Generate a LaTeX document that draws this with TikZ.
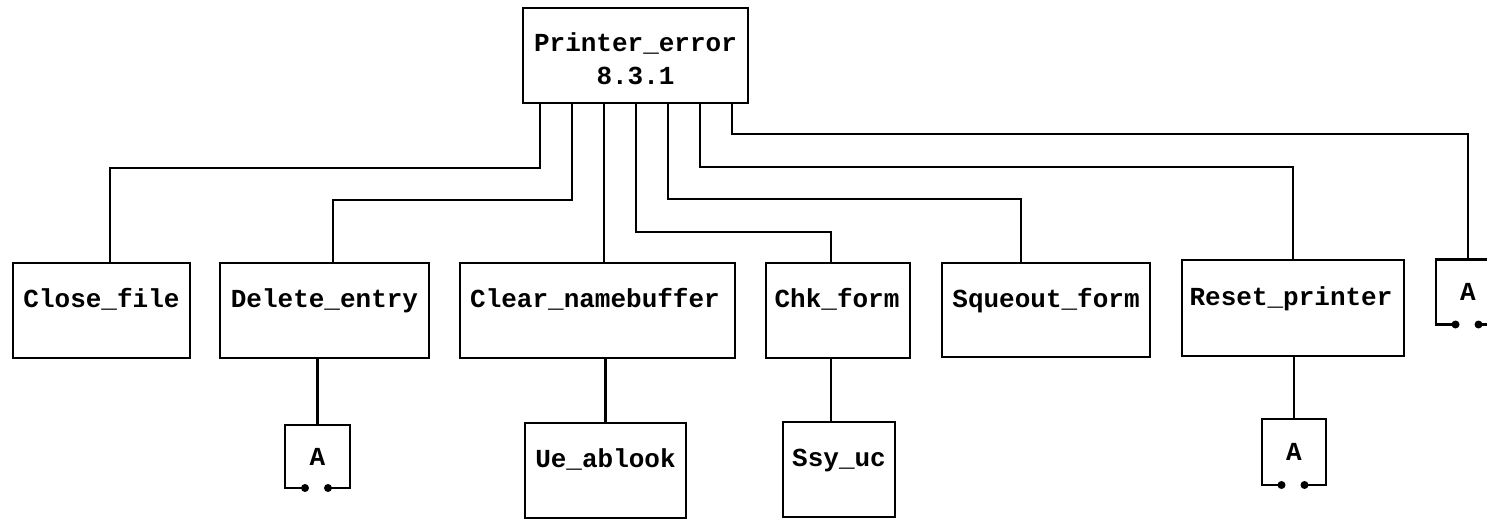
\documentclass[tikz,border=0pt]{standalone}
\usepackage{fontspec}
\newfontfamily\courfont{Liberation Mono}
\tikzset{
  box/.style={draw, rectangle, inner sep=0pt, outer sep=0pt},
  offbox/.style={rectangle, inner sep=0pt, outer sep=0pt, font=\courfont\bfseries\fontsize{26}{30}\selectfont},
  lbl/.style={anchor=base, inner sep=0pt, font=\courfont\bfseries\fontsize{26}{30}\selectfont},
}
\newcommand\offpagebox[1]{%
  \draw ([xshift=-12.5pt]#1.south) -- (#1.south west) -- (#1.north west) -- (#1.north east) -- (#1.south east) -- ([xshift=10.5pt]#1.south);
  \fill ([xshift=-12.5pt]#1.south) circle (4pt);
  \fill ([xshift=10.5pt]#1.south) circle (4pt);
}
\begin{document}
\begin{tikzpicture}[x=1pt, y=-1pt, line width=2.8pt, line join=miter]
\useasboundingbox (0,0) rectangle (1487,519);
\clip (0,0) rectangle (1487,519);
% top
\node[box, minimum width=225pt, minimum height=95pt] (P) at (635.5,55.5) {};
\node[lbl] (tP1) at (635.5,52) {Printer\_error};
\node[lbl] (tP2) at (635.5,84) {8.3.1};
% row 2
\node[box, minimum width=177pt, minimum height=95pt] (C1) at (101.5,310.5) {};
\node[box, minimum width=209pt, minimum height=95pt] (C2) at (324.5,310.5) {};
\node[box, minimum width=275pt, minimum height=95pt] (C3) at (597.5,310.5) {};
\node[box, minimum width=144pt, minimum height=95pt] (C4) at (838,310.5) {};
\node[box, minimum width=208pt, minimum height=94pt] (C5) at (1046,310) {};
\node[box, minimum width=222pt, minimum height=96pt] (C6) at (1293,308) {};
\node[offbox, minimum width=64pt, minimum height=65pt] (AR) at (1468,292) {A};
\node[lbl] (t1) at (101.5,307) {Close\_file};
\node[lbl] (t2) at (324.5,307) {Delete\_entry};
\node[lbl] (t3) at (595,307) {Clear\_namebuffer};
\node[lbl] (t4) at (837,307) {Chk\_form};
\node[lbl] (t5) at (1046,307) {Squeout\_form};
\node[lbl] (t6) at (1291,305) {Reset\_printer};
% row 3
\node[offbox, minimum width=65pt, minimum height=63pt] (A1) at (317.5,456.5) {A};
\node[box, minimum width=161pt, minimum height=95pt] (U) at (605.5,470.5) {};
\node[box, minimum width=112pt, minimum height=95pt] (S) at (839,469.5) {};
\node[offbox, minimum width=64pt, minimum height=66pt] (A2) at (1294,452) {A};
\node[lbl] (tU) at (605.5,467) {Ue\_ablook};
\node[lbl] (tS) at (839,466) {Ssy\_uc};
\offpagebox{AR}
\offpagebox{A1}
\offpagebox{A2}
% connectors from top
\draw ([xshift=-95.5pt]P.south) -- ++(0,65) -| ([xshift=8.5pt]C1.north);
\draw ([xshift=-63.5pt]P.south) -- ++(0,97) -| ([xshift=8.5pt]C2.north);
\draw ([xshift=-31.5pt]P.south) -- ([xshift=6.5pt]C3.north);
\draw ([xshift=0.5pt]P.south) -- ++(0,129) -| ([xshift=-7pt]C4.north);
\draw ([xshift=32.5pt]P.south) -- ++(0,96) -| ([xshift=-25pt]C5.north);
\draw ([xshift=64.5pt]P.south) -- ++(0,64) -| (C6.north);
\draw ([xshift=96.5pt]P.south) -- ++(0,31) -| (AR.north);
% lower connectors
\draw (A1.north) -- (A1.north |- C2.south);
\draw (U.north) -- (U.north |- C3.south);
\draw ([xshift=-8pt]S.north) -- ([xshift=-8pt]S.north |- C4.south);
\draw (A2.north) -- (A2.north |- C6.south);
\end{tikzpicture}
\end{document}
